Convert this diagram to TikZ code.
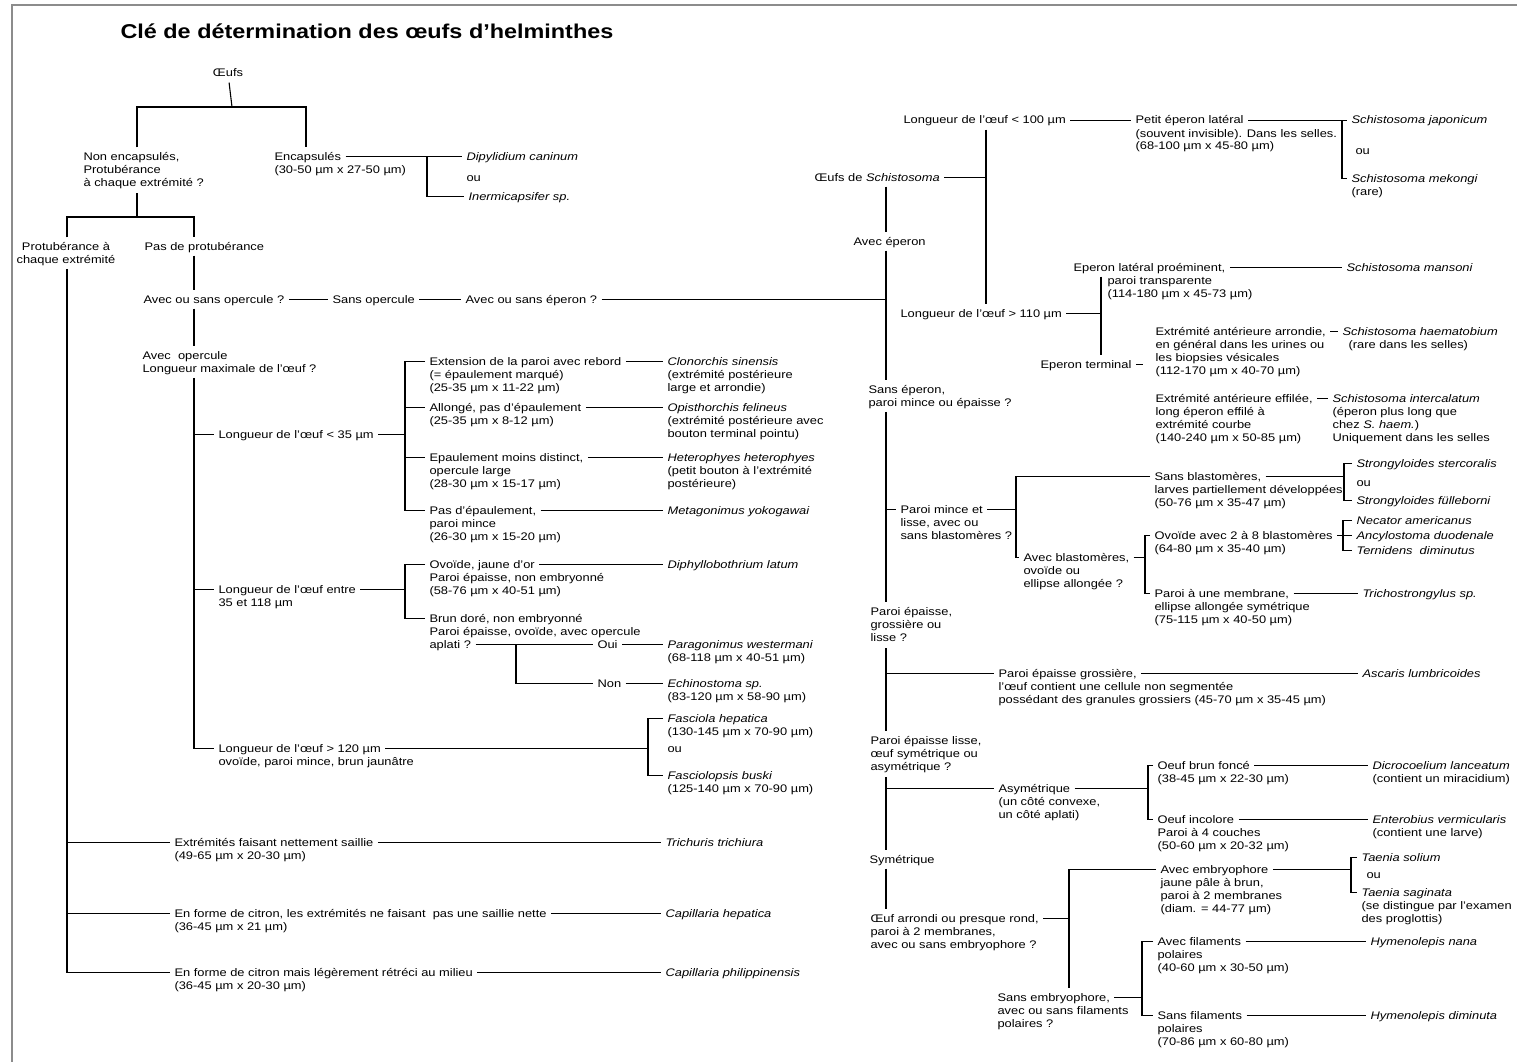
\documentclass[tikz,border=0pt]{standalone}
\usepackage{fontspec}
\setmainfont{Liberation Sans}[FakeStretch=1.17]
\newcommand{\txtfont}{\fontsize{11}{13}\selectfont}
\newcommand{\ml}[1]{\begin{tabular}[t]{@{}l@{}}#1\end{tabular}}

\begin{document}
\begin{tikzpicture}[x=1pt, y=-1pt, line width=1.1pt,
    txt/.style={anchor=base west, xshift=-4pt, yshift=-4pt, inner xsep=4pt, inner ysep=3pt,
                text height=9pt, text depth=2pt, font=\txtfont},
    sp/.style={txt, font=\txtfont\itshape},
    more/.style={anchor=base west, inner xsep=4pt, inner ysep=3pt, font=\txtfont}]
    \useasboundingbox (0,0) rectangle (1517,1062);
    % Frame and title
    \draw[line width=2.5pt, black!45] (12,1062) -- (12,5) -- (1517,5);
    \node[anchor=base west, inner sep=0pt, font=\fontsize{20}{24}\selectfont\bfseries] (title) at (120,39)
        {Clé de détermination des œufs d’helminthes};

    % Define junction points
    \coordinate (r0) at (232,107);  \coordinate (c1) at (137,107);  \coordinate (c2) at (306,107);
    \coordinate (c3) at (137,217);  \coordinate (t1) at (67,217);   \coordinate (t2) at (194,217);
    \coordinate (bd) at (427,0);    \coordinate (b35) at (405,0);   \coordinate (bo) at (516,0);
    \coordinate (bf) at (648,0);    \coordinate (rt) at (886,0);    \coordinate (rs) at (986,0);
    \coordinate (rl) at (1101,0);   \coordinate (bj) at (1342,0);   \coordinate (be) at (1143,0);
    \coordinate (bm) at (1016,0);   \coordinate (bs) at (1344,0);   \coordinate (ba) at (1145,0);
    \coordinate (bn) at (1343,0);   \coordinate (bb) at (1148,0);   \coordinate (bo2) at (1069,0);
    \coordinate (bt) at (1351,0);   \coordinate (bf2) at (1142,0);

    % Left key
    \node[txt, anchor=base, xshift=0pt] (oeufs) at (232,73) {Œufs};
    \node[txt] (nenc) at (83,156) {Non encapsulés,};
    \node[more] (nencd) at ([yshift=-13pt]nenc.base west) {\ml{Protubérance\\à chaque extrémité ?}};
    \node[txt] (enc) at (274,156) {Encapsulés};
    \node[more] (encd) at ([yshift=-13pt]enc.base west) {(30-50 µm x 27-50 µm)};
    \node[sp] (dip) at (466,156) {Dipylidium caninum};
    \node[txt] (ou1) at (466,177) {ou};
    \node[sp] (ine) at (468,196) {Inermicapsifer sp.};
    \node[txt, anchor=base, xshift=0pt] (pro) at (70,246) {Protubérance à};
    \node[more, anchor=base] (prod) at ([yshift=-13pt]pro.base) {chaque extrémité};
    \node[txt] (pdp) at (144,246) {Pas de protubérance};
    \node[txt] (aos) at (143,299) {Avec ou sans opercule ?};
    \node[txt] (sop) at (332,299) {Sans opercule};
    \node[txt] (ase) at (465,299) {Avec ou sans éperon ?};
    \node[txt] (aop) at (142,355) {Avec\ \ opercule};
    \node[more] (aopd) at ([yshift=-13pt]aop.base west) {Longueur maximale de l’œuf ?};

    \node[txt] (l35) at (218,434) {Longueur de l’œuf < 35 µm};
    \node[txt] (ext) at (429,361) {Extension de la paroi avec rebord};
    \node[more] (extd) at ([yshift=-13pt]ext.base west) {\ml{(= épaulement marqué)\\(25-35 µm x 11-22 µm)}};
    \node[sp] (clo) at (667,361) {Clonorchis sinensis};
    \node[more] (clod) at ([yshift=-13pt]clo.base west) {\ml{(extrémité postérieure\\large et arrondie)}};
    \node[txt] (all) at (429,407) {Allongé, pas d’épaulement};
    \node[more] (alld) at ([yshift=-13pt]all.base west) {(25-35 µm x 8-12 µm)};
    \node[sp] (opi) at (667,407) {Opisthorchis felineus};
    \node[more] (opid) at ([yshift=-13pt]opi.base west) {\ml{(extrémité postérieure avec\\bouton terminal pointu)}};
    \node[txt] (epa) at (429,457) {Epaulement moins distinct,};
    \node[more] (epad) at ([yshift=-13pt]epa.base west) {\ml{opercule large\\(28-30 µm x 15-17 µm)}};
    \node[sp] (het) at (667,457) {Heterophyes heterophyes};
    \node[more] (hetd) at ([yshift=-13pt]het.base west) {\ml{(petit bouton à l’extrémité\\postérieure)}};
    \node[txt] (pas) at (429,510) {Pas d’épaulement,};
    \node[more] (pasd) at ([yshift=-13pt]pas.base west) {\ml{paroi mince\\(26-30 µm x 15-20 µm)}};
    \node[sp] (met) at (667,510) {Metagonimus yokogawai};

    \node[txt] (lent) at (218,589) {Longueur de l’œuf entre};
    \node[more] (lentd) at ([yshift=-13pt]lent.base west) {35 et 118 µm};
    \node[txt] (ovj) at (429,564) {Ovoïde, jaune d’or};
    \node[more] (ovjd) at ([yshift=-13pt]ovj.base west) {\ml{Paroi épaisse, non embryonné\\(58-76 µm x 40-51 µm)}};
    \node[sp] (dla) at (667,564) {Diphyllobothrium latum};
    \node[txt] (bru) at (429,618) {Brun doré, non embryonné};
    \node[more] (brud) at ([yshift=-13pt]bru.base west) {Paroi épaisse, ovoïde, avec opercule};
    \node[txt] (apl) at (429,644) {aplati ?};
    \node[txt] (oui) at (597,644) {Oui};
    \node[txt] (non) at (597,683) {Non};
    \node[sp] (par) at (667,644) {Paragonimus westermani};
    \node[more] (pard) at ([yshift=-13pt]par.base west) {(68-118 µm x 40-51 µm)};
    \node[sp] (ech) at (667,683) {Echinostoma sp.};
    \node[more] (echd) at ([yshift=-13pt]ech.base west) {(83-120 µm x 58-90 µm)};

    \node[txt] (l120) at (218,748) {Longueur de l’œuf > 120 µm};
    \node[more] (l120d) at ([yshift=-13pt]l120.base west) {ovoïde, paroi mince, brun jaunâtre};
    \node[sp] (fhe) at (667,718) {Fasciola hepatica};
    \node[more] (fhed) at ([yshift=-13pt]fhe.base west) {(130-145 µm x 70-90 µm)};
    \node[txt] (ou5) at (667,748) {ou};
    \node[sp] (fbu) at (667,775) {Fasciolopsis buski};
    \node[more] (fbud) at ([yshift=-13pt]fbu.base west) {(125-140 µm x 70-90 µm)};

    \node[txt] (ext2) at (174,842) {Extrémités faisant nettement saillie};
    \node[more] (ext2d) at ([yshift=-13pt]ext2.base west) {(49-65 µm x 20-30 µm)};
    \node[sp] (ttr) at (665,842) {Trichuris trichiura};
    \node[txt] (cit) at (174,913) {En forme de citron, les extrémités ne faisant\ \ pas une saillie nette};
    \node[more] (citd) at ([yshift=-13pt]cit.base west) {(36-45 µm x 21 µm)};
    \node[sp] (chp) at (665,913) {Capillaria hepatica};
    \node[txt] (cph) at (174,972) {En forme de citron mais légèrement rétréci au milieu};
    \node[more] (cphd) at ([yshift=-13pt]cph.base west) {(36-45 µm x 20-30 µm)};
    \node[sp] (cphi) at (665,972) {Capillaria philippinensis};

    % Right key
    \node[txt] (l100) at (903,120) {Longueur de l’œuf < 100 µm};
    \node[txt] (pet) at (1135,120) {Petit éperon latéral};
    \node[more] (petd) at ([yshift=-13pt]pet.base west) {\ml{(souvent invisible). Dans les selles.\\(68-100 µm x 45-80 µm)}};
    \node[sp] (jap) at (1351,120) {Schistosoma japonicum};
    \node[txt] (ou2) at (1355,150) {ou};
    \node[sp] (mek) at (1351,178) {Schistosoma mekongi};
    \node[more] (mekd) at ([yshift=-13pt]mek.base west) {(rare)};
    \node[txt] (schi) at (814,177) {Œufs de \textit{Schistosoma}};
    \node[txt] (avep) at (853,241) {Avec éperon};
    \node[txt] (l110) at (900,313) {Longueur de l’œuf > 110 µm};
    \node[txt] (elp) at (1073,267) {Eperon latéral proéminent,};
    \node[more] (elpd) at ([xshift=34pt, yshift=-13pt]elp.base west) {\ml{paroi transparente\\(114-180 µm x 45-73 µm)}};
    \node[sp] (man) at (1346,267) {Schistosoma mansoni};
    \node[txt] (eter) at (1040,364) {Eperon terminal};
    \node[txt] (ear) at (1155,331) {Extrémité antérieure arrondie,};
    \node[more] (eard) at ([yshift=-13pt]ear.base west) {\ml{en général dans les urines ou\\les biopsies vésicales\\(112-170 µm x 40-70 µm)}};
    \node[sp] (hae) at (1342,331) {Schistosoma haematobium};
    \node[more] (haed) at ([xshift=6pt, yshift=-13pt]hae.base west) {(rare dans les selles)};
    \node[txt] (eef) at (1155,398) {Extrémité antérieure effilée,};
    \node[more] (eefd) at ([yshift=-13pt]eef.base west) {\ml{long éperon effilé à\\extrémité courbe\\(140-240 µm x 50-85 µm)}};
    \node[sp] (int) at (1332,398) {Schistosoma intercalatum};
    \node[more] (intd) at ([yshift=-13pt]int.base west) {\ml{(éperon plus long que\\chez \textit{S. haem.})\\Uniquement dans les selles}};
    \node[txt] (sep) at (868,389) {Sans éperon,};
    \node[more] (sepd) at ([yshift=-13pt]sep.base west) {paroi mince ou épaisse ?};

    \node[txt] (pmin) at (900,509) {Paroi mince et};
    \node[more] (pmind) at ([yshift=-13pt]pmin.base west) {\ml{lisse, avec ou\\sans blastomères ?}};
    \node[txt] (sbl) at (1154,476) {Sans blastomères,};
    \node[more] (sbld) at ([yshift=-13pt]sbl.base west) {\ml{larves partiellement développées\\(50-76 µm x 35-47 µm)}};
    \node[sp] (sst) at (1356,463) {Strongyloides stercoralis};
    \node[txt] (ou3) at (1356,482) {ou};
    \node[sp] (sfu) at (1356,500) {Strongyloides fülleborni};
    \node[txt] (abl) at (1023,557) {Avec blastomères,};
    \node[more] (abld) at ([yshift=-13pt]abl.base west) {\ml{ovoïde ou\\ellipse allongée ?}};
    \node[txt] (ovo) at (1154,535) {Ovoïde avec 2 à 8 blastomères};
    \node[more] (ovod) at ([yshift=-13pt]ovo.base west) {(64-80 µm x 35-40 µm)};
    \node[sp] (nec) at (1356,520) {Necator americanus};
    \node[sp] (anc) at (1356,535) {Ancylostoma duodenale};
    \node[sp] (ter) at (1356,550) {Ternidens\ \ diminutus};
    \node[txt] (pun) at (1154,593) {Paroi à une membrane,};
    \node[more] (pund) at ([yshift=-13pt]pun.base west) {\ml{ellipse allongée symétrique\\(75-115 µm x 40-50 µm)}};
    \node[sp] (tsp) at (1362,593) {Trichostrongylus sp.};

    \node[txt] (pep) at (870,611) {Paroi épaisse,};
    \node[more] (pepd) at ([yshift=-13pt]pep.base west) {\ml{grossière ou\\lisse ?}};
    \node[txt] (pgr) at (998,673) {Paroi épaisse grossière,};
    \node[more] (pgrd) at ([yshift=-13pt]pgr.base west) {\ml{l’œuf contient une cellule non segmentée\\possédant des granules grossiers (45-70 µm x 35-45 µm)}};
    \node[sp] (asc) at (1362,673) {Ascaris lumbricoides};
    \node[txt] (pli) at (870,740) {Paroi épaisse lisse,};
    \node[more] (plid) at ([yshift=-13pt]pli.base west) {\ml{œuf symétrique ou\\asymétrique ?}};
    \node[txt] (asy) at (998,788) {Asymétrique};
    \node[more] (asyd) at ([yshift=-13pt]asy.base west) {\ml{(un côté convexe,\\un côté aplati)}};
    \node[txt] (obf) at (1157,765) {Oeuf brun foncé};
    \node[more] (obfd) at ([yshift=-13pt]obf.base west) {(38-45 µm x 22-30 µm)};
    \node[sp] (dic) at (1372,765) {Dicrocoelium lanceatum};
    \node[more] (dicd) at ([yshift=-13pt]dic.base west) {(contient un miracidium)};
    \node[txt] (oin) at (1157,819) {Oeuf incolore};
    \node[more] (oind) at ([yshift=-13pt]oin.base west) {\ml{Paroi à 4 couches\\(50-60 µm x 20-32 µm)}};
    \node[sp] (ent) at (1372,819) {Enterobius vermicularis};
    \node[more] (entd) at ([yshift=-13pt]ent.base west) {(contient une larve)};

    \node[txt] (sym) at (869,859) {Symétrique};
    \node[txt] (oar) at (870,918) {Œuf arrondi ou presque rond,};
    \node[more] (oard) at ([yshift=-13pt]oar.base west) {\ml{paroi à 2 membranes,\\avec ou sans embryophore ?}};
    \node[txt] (aem) at (1160,869) {Avec embryophore};
    \node[more] (aemd) at ([yshift=-13pt]aem.base west) {\ml{jaune pâle à brun,\\paroi à 2 membranes\\(diam. = 44-77 µm)}};
    \node[sp] (tso) at (1361,857) {Taenia solium};
    \node[txt] (ou4) at (1366,874) {ou};
    \node[sp] (tsa) at (1361,892) {Taenia saginata};
    \node[more] (tsad) at ([yshift=-13pt]tsa.base west) {\ml{(se distingue par l’examen\\des proglottis)}};
    \node[txt] (sem) at (997,997) {Sans embryophore,};
    \node[more] (semd) at ([yshift=-13pt]sem.base west) {\ml{avec ou sans filaments\\polaires ?}};
    \node[txt] (afi) at (1157,941) {Avec filaments};
    \node[more] (afid) at ([yshift=-13pt]afi.base west) {\ml{polaires\\(40-60 µm x 30-50 µm)}};
    \node[sp] (hna) at (1370,941) {Hymenolepis nana};
    \node[txt] (sfi) at (1157,1015) {Sans filaments};
    \node[more] (sfid) at ([yshift=-13pt]sfi.base west) {\ml{polaires\\(70-86 µm x 60-80 µm)}};
    \node[sp] (hdi) at (1370,1015) {Hymenolepis diminuta};

    % Draw tree trunks
    \draw (oeufs) -- (r0);
    \draw (nenc.north -| c1) |- (c2) -- (enc.north -| c2);
    \draw (nencd.south -| c1) -- (c3);
    \draw (pro.north -| t1) |- (t2) -- (pdp.north -| t2);
    \draw (prod.south -| t1) |- (cph.west);
    \draw (pdp.south -| t2) -- (aos.north -| t2);
    \draw (aos.south -| t2) -- (aop.north -| t2);
    \draw (aopd.south -| t2) |- (l120.west);
    \draw (bo |- apl.east) |- (non.west);
    \draw (bd |- enc.east) |- (ine.west);
    \draw (bj |- pet.east) |- (mek.west);
    \draw (aem.west) -| (bo2 |- sem.north);
    \foreach \a/\b in {schi/avep, avep/sep, sepd/pep, pepd/pli, plid/sym, sym/oar}
        {\draw (\a.south -| rt) -- (\b.north -| rt);}
    \draw (l100.south -| rs) -- (l110.north -| rs);
    \draw (elp.south -| rl) -- (eter.north -| rl);

    % Draw side branches
    \foreach \n/\x in {ext2/t1, cit/t1, l35/t2, lent/t2, all/b35, epa/b35, pmin/rt, pgr/rt, asy/rt}
        {\draw (\x |- \n.west) -- (\n.west);}
    \foreach \n/\x in {l35/b35, lent/b35, l120/bf, ase/rt, schi/rs, l110/rl, eter/be, pmin/bm,
                       sbl/bs, abl/ba, asy/bb, oar/bo2, aem/bt, sem/bf2}
        {\draw (\n.east) -- (\x |- \n.east);}
    \foreach \t/\b/\x in {ext/pas/b35, ovj/bru/b35, fhe/fbu/bf, sbl/abl/bm, sst/sfu/bs, ovo/pun/ba,
                          nec/ter/bn, obf/oin/bb, tso/tsa/bt, afi/sfi/bf2}
        {\draw (\t.west) -| (\x |- \b.west) -- (\b.west);}
    \foreach \a/\b in {enc/dip, aos/sop, sop/ase, ext/clo, all/opi, epa/het, pas/met, ovj/dla,
                       apl/oui, oui/par, non/ech, ext2/ttr, cit/chp, cph/cphi, l100/pet, pet/jap,
                       elp/man, ear/hae, eef/int, ovo/anc, pun/tsp, pgr/asc, obf/dic, oin/ent,
                       afi/hna, sfi/hdi}
        {\draw (\a.east) -- (\b.west);}
\end{tikzpicture}
\end{document}
